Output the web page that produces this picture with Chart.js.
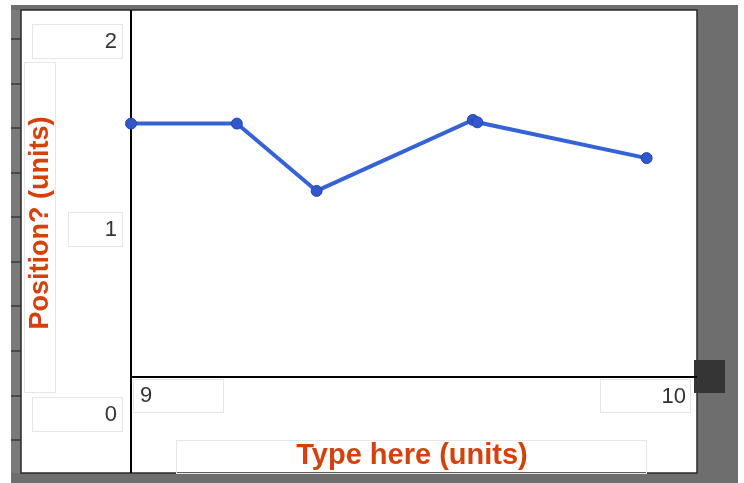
<!DOCTYPE html>
<html>
<head>
<meta charset="utf-8">
<script src="https://cdn.jsdelivr.net/npm/chart.js@4/dist/chart.umd.min.js"></script>
<style>
  html, body { margin: 0; padding: 0; background: #fff; }
  #wrap { width: 744px; height: 483px; position: relative; }
</style>
</head>
<body>
<div id="wrap"><canvas id="posChart" width="744" height="483"></canvas></div>
<script>
// ---------------- DATA ----------------
const xValues = [9.0, 9.187, 9.328, 9.604, 9.612, 9.911];
const yValues = [1.381, 1.381, 1.014, 1.401, 1.388, 1.193];
const xTickLabels = ["9", "10"];
const yTickLabels = ["2", "1", "0"];
const xMin = 9, xMax = 10;
const yMin = 0, yMax = 2;
const xTitle = "Type here (units)";
const yTitle = "Position? (units)";

const titleColor = "#d4420c";
const boxColor = "#e6e6e6";
const labelFont = '22px "Liberation Sans", Arial, sans-serif';

function box(ctx, x, y, w, h) {
    ctx.strokeStyle = boxColor;
    ctx.lineWidth = 1;
    ctx.strokeRect(x + 0.5, y + 0.5, w, h);
}

// ---------------- FRAME / LABELS PLUGIN ----------------
const framePlugin = {
    id: "frame",
    beforeDraw(chart) {
        const ctx = chart.ctx;
        ctx.save();
        ctx.fillStyle = "#ffffff";
        ctx.fillRect(0, 0, chart.width, chart.height);
        // gray surround
        ctx.fillStyle = "#6e6e6e";
        ctx.fillRect(11, 5, 727, 478);
        ctx.fillStyle = "#7a7a7a";
        ctx.fillRect(11, 10, 10, 463);
        // row marks on left strip
        ctx.fillStyle = "#4a4a4a";
        [38, 83, 127, 172, 216, 261, 305, 350, 395, 439].forEach((y) => {
            ctx.fillRect(11, y, 10, 2);
        });
        // white panel
        ctx.fillStyle = "#ffffff";
        ctx.fillRect(21, 10, 676, 463);
        ctx.strokeStyle = "#2a2a2a";
        ctx.lineWidth = 1.5;
        ctx.strokeRect(21, 10, 676, 463);
        // dark handle
        ctx.fillStyle = "#353535";
        ctx.fillRect(694, 360, 31, 33);

        // y tick label boxes
        ctx.font = labelFont;
        ctx.textBaseline = "middle";
        ctx.textAlign = "right";
        const yBoxes = [[32, 24, 90, 34], [68, 212, 54, 34], [32, 397, 90, 34]];
        yTickLabels.forEach((t, i) => {
            const b = yBoxes[i];
            box(ctx, b[0], b[1], b[2], b[3]);
            ctx.fillStyle = "#333333";
            ctx.fillText(t, b[0] + b[2] - 5, b[1] + b[3] / 2 + 1);
        });
        // x tick label boxes
        const xBoxes = [[133, 379, 90, 33], [600, 379, 90, 33]];
        xTickLabels.forEach((t, i) => {
            const b = xBoxes[i];
            box(ctx, b[0], b[1], b[2], b[3]);
            ctx.fillStyle = "#333333";
            if (i === 0) {
                ctx.textAlign = "left";
                ctx.fillText(t, b[0] + 7, b[1] + 17);
            } else {
                ctx.textAlign = "right";
                ctx.fillText(t, b[0] + b[2] - 4, b[1] + b[3] / 2 + 1);
            }
        });

        // axis titles
        box(ctx, 24, 62, 31, 330);
        box(ctx, 176, 440, 470, 33);
        ctx.fillStyle = titleColor;
        ctx.textAlign = "center";
        ctx.font = 'bold 29px "Liberation Sans", Arial, sans-serif';
        ctx.fillText(xTitle, 412, 456);
        ctx.save();
        ctx.translate(40, 223);
        ctx.rotate(-Math.PI / 2);
        ctx.font = 'bold 27px "Liberation Sans", Arial, sans-serif';
        ctx.fillText(yTitle, 0, 1);
        ctx.restore();
        ctx.restore();
    },
    beforeDatasetsDraw(chart) {
        const ctx = chart.ctx;
        const area = chart.chartArea;
        ctx.save();
        ctx.strokeStyle = "#000000";
        ctx.lineWidth = 2;
        ctx.beginPath();
        ctx.moveTo(area.left, area.top);
        ctx.lineTo(area.left, 473);
        ctx.moveTo(area.left, area.bottom);
        ctx.lineTo(area.right, area.bottom);
        ctx.stroke();
        ctx.restore();
    }
};

const points = xValues.map((x, i) => ({ x: x, y: yValues[i] }));

new Chart(document.getElementById("posChart"), {
    type: "scatter",
    data: {
        datasets: [{
            data: points,
            showLine: true,
            borderColor: "#3562d4",
            borderWidth: 4,
            pointRadius: 5.5,
            pointBackgroundColor: "#2f58cc",
            pointBorderColor: "#2b44a6",
            pointBorderWidth: 1,
            clip: false,
        }]
    },
    options: {
        responsive: false,
        animation: false,
        layout: { padding: { left: 131, right: 47, top: 10, bottom: 106 } },
        plugins: {
            legend: { display: false },
            tooltip: { enabled: false }
        },
        scales: {
            x: { type: "linear", min: xMin, max: xMax, display: false },
            y: { type: "linear", min: yMin, max: yMax, display: false }
        }
    },
    plugins: [framePlugin]
});
</script>
</body>
</html>
